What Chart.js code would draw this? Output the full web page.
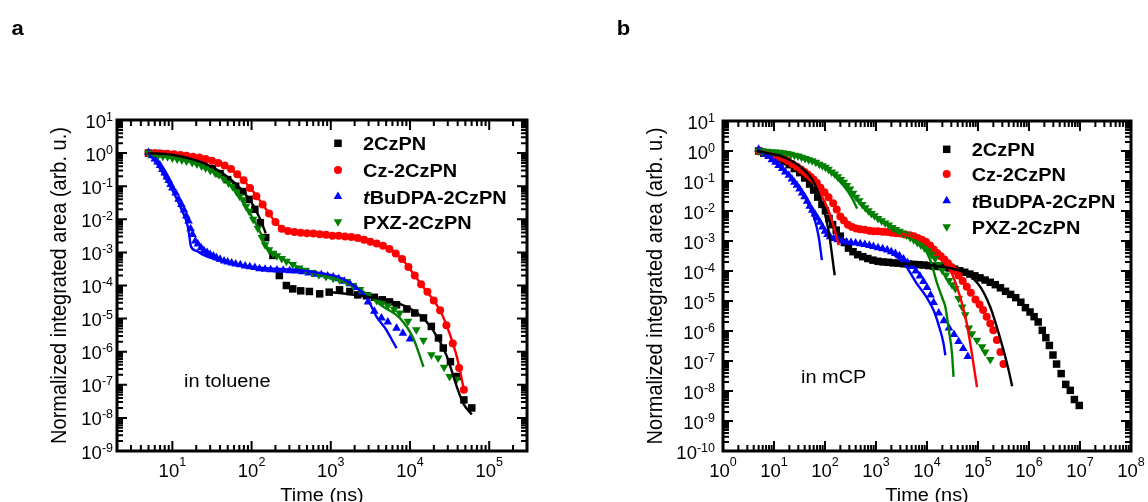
<!DOCTYPE html>
<html>
<head>
<meta charset="utf-8">
<title>Transient decay of 2CzPN derivatives</title>
<script src="https://cdn.jsdelivr.net/npm/chart.js@4.4.1/dist/chart.umd.min.js"></script>
<style>
  html, body { margin: 0; padding: 0; background: #fff; }
  #wrap { position: relative; width: 1148px; height: 502px; overflow: hidden; }
  #wrap canvas { position: absolute; top: 0; }
</style>
</head>
<body>
<div id="wrap">
  <canvas id="panelA" width="574" height="502" style="left:0"></canvas>
  <canvas id="panelB" width="574" height="502" style="left:574px"></canvas>
</div>
<script>
/* global Chart */

// ---------------------- Data: panel a (in toluene) ----------------------

const SERIES_NAMES = ["2CzPN", "Cz-2CzPN", "tBuDPA-2CzPN", "PXZ-2CzPN"];

const tolT_2CzPN = [5, 6.3, 7.9, 10, 12.6, 15.8, 20, 25, 32, 40, 50, 63, 78, 93, 110, 129, 151, 186, 224, 275,
  331, 417, 537, 724, 955, 1290, 1740, 2190, 2820, 3550, 4470, 5500, 6760, 9120, 11500, 14800, 18600, 22900, 26300, 32400,
  39800, 47900, 60300];
const tolY_2CzPN = [1, 0.98, 0.93, 0.87, 0.79, 0.69, 0.58, 0.45, 0.34, 0.24, 0.158, 0.1, 0.069, 0.040, 0.020, 7.9e-3, 2.8e-3, 8.1e-4, 2.0e-4, 1.0e-4,
  7.9e-5, 6.9e-5, 6.6e-5, 5.6e-5, 6.3e-5, 7.4e-5, 6.6e-5, 5.2e-5, 4.9e-5, 4.4e-5, 3.7e-5, 3.2e-5, 2.6e-5, 1.95e-5, 1.48e-5, 1.05e-5, 5.8e-6, 2.6e-6, 1.29e-6, 5.0e-7,
  1.78e-7, 3.5e-8, 2.0e-8];

const tolT_Cz = [5, 6, 7.2, 8.7, 10.5, 12.6, 15.1, 18.2, 21.9, 26.3, 31.6, 38, 45.7, 55, 66, 79.4, 95.5, 115, 138, 166,
  200, 240, 288, 347, 417, 501, 603, 724, 871, 1047, 1259, 1514, 1820, 2188, 2630, 3162, 3802, 4571, 5495, 6607,
  7943, 9550, 11480, 13800, 16600, 19950, 23990, 28840, 34670, 41690, 47860];
const tolY_Cz = [1.0, 0.99, 0.98, 0.95, 0.92, 0.87, 0.83, 0.78, 0.74, 0.66, 0.59, 0.50, 0.42, 0.33, 0.23, 0.15, 0.089, 0.050, 0.028, 0.015,
  8.3e-3, 5.2e-3, 4.4e-3, 4.1e-3, 3.9e-3, 3.8e-3, 3.7e-3, 3.55e-3, 3.4e-3, 3.2e-3, 3.16e-3, 3.0e-3, 2.9e-3, 2.7e-3, 2.4e-3, 2.1e-3, 1.86e-3, 1.58e-3, 1.26e-3, 9.3e-4,
  6.3e-4, 3.6e-4, 2.0e-4, 1.1e-4, 6.5e-5, 3.55e-5, 1.78e-5, 6.3e-6, 1.78e-6, 3.2e-7, 7.1e-8];

const tolT_tBu = [5, 5.5, 6, 6.5, 7, 7.5, 8, 8.5, 9, 9.5, 10, 11, 12, 13, 14, 15, 16, 17, 18, 19.5,
  21, 23, 25, 27.5, 30, 33, 36, 40, 45, 50, 56, 63, 72, 83, 95, 110, 126, 148, 174, 209,
  251, 302, 363, 437, 525, 631, 759, 912, 1072, 1259, 1479, 1738, 2042, 2427, 2951, 3548, 4365, 5248, 6761, 8128, 10000];
const tolY_tBu = [1.05, 0.83, 0.66, 0.54, 0.42, 0.32, 0.25, 0.19, 0.148, 0.112, 0.089, 0.062, 0.040, 0.028, 0.019, 0.0126, 8.9e-3, 5.2e-3, 3.5e-3, 2.2e-3,
  1.78e-3, 1.38e-3, 1.15e-3, 1.0e-3, 8.7e-4, 7.8e-4, 6.9e-4, 6.2e-4, 5.5e-4, 5.1e-4, 4.8e-4, 4.5e-4, 4.2e-4, 3.9e-4, 3.7e-4, 3.5e-4, 3.2e-4, 3.1e-4, 3.0e-4, 2.95e-4,
  2.9e-4, 2.8e-4, 2.75e-4, 2.6e-4, 2.4e-4, 2.2e-4, 2.1e-4, 1.95e-4, 1.8e-4, 1.6e-4, 1.35e-4, 1.12e-4, 8.7e-5, 5.9e-5, 3.2e-5, 1.66e-5, 1.05e-5, 7.9e-6, 5.1e-6, 3.6e-6, 2.4e-6];

const tolT_PXZ = [5, 5.75, 6.6, 7.6, 8.7, 10, 11.5, 13.2, 15.1, 17.8, 20.4, 23.4, 26.3, 30.2, 34.7, 38.9, 44.7, 51.3, 57.5, 64.6,
  70.8, 77.6, 85.1, 93.3, 104.7, 120, 135, 148, 166, 186, 209, 240, 275, 331, 398, 479, 589, 708, 871, 1072,
  1288, 1585, 1905, 2344, 2951, 3802, 4467, 5248, 6310, 7413, 9441, 12020, 14790, 18620, 22650, 26920, 31620, 38900];
const tolY_PXZ = [1.0, 0.91, 0.85, 0.81, 0.78, 0.71, 0.66, 0.62, 0.58, 0.52, 0.47, 0.41, 0.355, 0.30, 0.25, 0.22, 0.166, 0.126, 0.098, 0.068,
  0.050, 0.039, 0.025, 0.0174, 0.01, 5.4e-3, 2.8e-3, 1.7e-3, 1.2e-3, 9.5e-4, 7.9e-4, 6.5e-4, 5.4e-4, 4.3e-4, 3.4e-4, 2.9e-4, 2.45e-4, 2.1e-4, 1.86e-4, 1.66e-4,
  1.48e-4, 1.32e-4, 1.0e-4, 7.6e-5, 5.2e-5, 3.5e-5, 3.0e-5, 2.45e-5, 1.9e-5, 1.48e-5, 8.3e-6, 4.6e-6, 2.2e-6, 8.1e-7, 6.5e-7, 3.4e-7, 1.78e-7, 1.48e-7];

// fitted curves (toluene)
const tolFitT_2CzPN_early = [5, 10, 20, 32, 50, 71, 100, 126, 151];
const tolFitY_2CzPN_early = [1.0, 0.89, 0.60, 0.38, 0.19, 0.089, 0.032, 0.0112, 3.8e-3];
const tolFitT_2CzPN_late = [1000, 2000, 3980, 7410, 12600, 19500, 28800, 38900, 46800, 60300];
const tolFitY_2CzPN_late = [6.3e-5, 5.2e-5, 4.0e-5, 2.8e-5, 1.41e-5, 4.5e-6, 7.9e-7, 8.9e-8, 2.8e-8, 1.26e-8];
const tolFitT_Cz = [5, 10, 20, 32, 50, 79, 100, 126, 158, 200, 251, 316, 500, 1000, 2000, 3160, 5010, 7940, 11480, 15850, 19950, 25120, 31620, 38020, 42660, 47860];
const tolFitY_Cz = [1.0, 0.93, 0.76, 0.59, 0.38, 0.15, 0.079, 0.038, 0.0178, 8.3e-3, 5.0e-3, 4.2e-3, 3.8e-3, 3.3e-3, 2.75e-3, 2.1e-3, 1.41e-3, 6.3e-4, 2.0e-4, 7.1e-5, 3.55e-5, 1.41e-5, 3.55e-6, 8.9e-7, 2.8e-7, 7.1e-8];
const tolFitT_tBu = [4.9, 6.3, 7.9, 10, 12.6, 15.8, 17.2, 20, 25, 40, 63, 100, 200, 398, 794, 1259, 1995, 2818, 3758, 5012, 6095, 6761];
const tolFitY_tBu = [1.07, 0.5, 0.21, 0.076, 0.024, 5.6e-3, 1.51e-3, 1.12e-3, 8.3e-4, 5.6e-4, 4.4e-4, 3.7e-4, 3.2e-4, 2.9e-4, 2.3e-4, 1.78e-4, 9.5e-5, 4.5e-5, 1.17e-5, 4.6e-6, 2.0e-6, 1.29e-6];
const tolFitT_PXZ = [5, 10, 20, 32, 50, 71, 100, 126, 148, 178, 251, 398, 794, 1585, 2512, 4571, 7413, 10960, 14790];
const tolFitY_PXZ = [1.0, 0.72, 0.48, 0.29, 0.132, 0.052, 0.0126, 4.5e-3, 1.78e-3, 1.05e-3, 6.3e-4, 3.5e-4, 2.0e-4, 1.2e-4, 6.8e-5, 2.3e-5, 1.05e-5, 2.6e-6, 3.5e-7];

// ---------------------- Data: panel b (in mCP) ----------------------

const mcpT_2CzPN = [5, 6.3, 7.9, 10, 12.6, 15.8, 20, 25, 32, 40, 50, 60, 72, 87, 102, 120, 141, 166, 200, 240,
  288, 355, 437, 550, 692, 871, 1096, 1380, 1738, 2188, 2754, 3467, 4365, 5495, 6918, 8710, 10960, 13800, 17380, 21880,
  27540, 34670, 43650, 54950, 69180, 87100, 1.096e5, 1.38e5, 1.738e5, 2.188e5, 2.754e5, 3.467e5, 4.365e5, 5.495e5, 6.918e5, 8.51e5, 1.047e6, 1.259e6, 1.514e6, 1.82e6,
  2.14e6, 2.51e6, 2.95e6, 3.47e6, 4.27e6, 5.25e6, 6.46e6, 7.76e6, 9.66e6];
const mcpY_2CzPN = [1, 0.85, 0.76, 0.66, 0.55, 0.44, 0.35, 0.26, 0.19, 0.126, 0.079, 0.050, 0.029, 0.0166, 0.0102, 5.6e-3, 3.5e-3, 2.3e-3, 1.45e-3, 8.9e-4,
  5.8e-4, 4.4e-4, 3.5e-4, 3.0e-4, 2.6e-4, 2.3e-4, 2.1e-4, 2.0e-4, 1.95e-4, 1.86e-4, 1.82e-4, 1.74e-4, 1.7e-4, 1.66e-4, 1.62e-4, 1.58e-4, 1.51e-4, 1.45e-4, 1.41e-4, 1.35e-4,
  1.26e-4, 1.15e-4, 1.02e-4, 9.1e-5, 7.9e-5, 6.9e-5, 5.9e-5, 5.0e-5, 4.2e-5, 3.5e-5, 2.75e-5, 2.1e-5, 1.66e-5, 1.29e-5, 9.1e-6, 6.0e-6, 4.3e-6, 3.0e-6, 2.0e-6, 1.05e-6,
  6.0e-7, 3.3e-7, 1.58e-7, 7.9e-8, 3.8e-8, 1.66e-8, 1.05e-8, 5.2e-9, 3.3e-9];

const mcpT_Cz = [5, 6, 7.2, 8.7, 10.5, 12.6, 15.5, 18.6, 22.9, 28.2, 33.9, 39.8, 45.7, 52.5, 60.3, 69.2, 81.3, 97.7, 117.5, 144.5,
  169.8, 199.5, 234.4, 281.8, 338.8, 407.4, 489.8, 602.6, 741.3, 891.3, 1096, 1349, 1660, 2042, 2512, 3020, 3715, 4571, 5495, 6607,
  7943, 9550, 11480, 13490, 15850, 18620, 21880, 25700, 30200, 35480, 41690, 50120, 60260, 72440, 89130, 107200, 125900, 147900, 173800, 199500,
  234400, 275400, 316200];
const mcpY_Cz = [1, 0.93, 0.85, 0.78, 0.69, 0.63, 0.56, 0.47, 0.37, 0.30, 0.24, 0.20, 0.166, 0.135, 0.11, 0.085, 0.060, 0.042, 0.029, 0.018,
  0.0112, 6.6e-3, 4.8e-3, 3.5e-3, 2.95e-3, 2.6e-3, 2.45e-3, 2.35e-3, 2.2e-3, 2.1e-3, 2.1e-3, 2.05e-3, 2.0e-3, 1.9e-3, 1.8e-3, 1.78e-3, 1.66e-3, 1.55e-3, 1.45e-3, 1.26e-3,
  1.1e-3, 9.3e-4, 7.1e-4, 5.2e-4, 4.0e-4, 3.1e-4, 2.4e-4, 1.8e-4, 1.35e-4, 1.0e-4, 7.1e-5, 4.6e-5, 3.0e-5, 1.9e-5, 1.12e-5, 7.6e-6, 5.0e-6, 3.0e-6, 1.78e-6, 1.05e-6,
  5.0e-7, 2.0e-7, 7.9e-8];

const mcpT_tBu = [5, 5.75, 6.6, 7.8, 9.1, 10.7, 12.3, 14.5, 16.6, 19.5, 22.4, 25.1, 28.2, 31.6, 35.5, 39.8, 44.7, 50.1, 56.2, 63.1,
  70.8, 79.4, 89.1, 100, 112, 126, 148, 178, 214, 263, 324, 398, 490, 603, 741, 891, 1096, 1349, 1660, 1995,
  2399, 2884, 3467, 4169, 5012, 6026, 7244, 8511, 10000, 11750, 13490, 16980, 21380, 26920, 33880, 41690, 51290, 63100];
const mcpY_tBu = [1.15, 0.93, 0.79, 0.65, 0.51, 0.42, 0.33, 0.26, 0.20, 0.155, 0.117, 0.091, 0.072, 0.054, 0.040, 0.030, 0.021, 0.0145, 0.0105, 7.9e-3,
  5.8e-3, 4.2e-3, 2.95e-3, 2.1e-3, 1.66e-3, 1.38e-3, 1.2e-3, 1.1e-3, 1.0e-3, 9.3e-4, 8.9e-4, 8.5e-4, 8.1e-4, 7.6e-4, 7.1e-4, 6.6e-4, 6.0e-4, 5.5e-4, 5.0e-4, 4.4e-4,
  3.8e-4, 3.2e-4, 2.5e-4, 1.9e-4, 1.41e-4, 1.0e-4, 6.8e-5, 4.5e-5, 2.8e-5, 1.58e-5, 8.9e-6, 4.0e-6, 2.2e-6, 1.26e-6, 7.6e-7, 4.5e-7, 2.6e-7, 1.41e-7];

const mcpT_PXZ = [5, 6, 7.2, 8.7, 10.5, 12.6, 15.1, 18.2, 21.4, 25.1, 29.5, 34.7, 40.7, 47.9, 56.2, 66.1, 77.6, 89.1, 102, 117,
  135, 155, 178, 204, 234, 269, 309, 355, 407, 468, 537, 617, 708, 813, 933, 1096, 1288, 1514, 1778, 2089,
  2455, 2884, 3388, 3981, 4677, 5495, 6457, 7586, 8913, 10470, 12300, 14450, 16980, 19950, 23440, 26920, 30900, 35890, 41690, 48980,
  56230, 66070, 75860, 95500, 120200, 138000, 173800];
const mcpY_PXZ = [1.0, 1.0, 0.98, 0.95, 0.93, 0.91, 0.87, 0.83, 0.78, 0.72, 0.68, 0.62, 0.56, 0.51, 0.47, 0.42, 0.36, 0.32, 0.29, 0.245,
  0.20, 0.17, 0.138, 0.112, 0.091, 0.071, 0.054, 0.039, 0.029, 0.022, 0.0166, 0.0129, 0.0102, 8.3e-3, 6.9e-3, 5.6e-3, 4.7e-3, 4.0e-3, 3.4e-3, 2.8e-3,
  2.4e-3, 2.1e-3, 1.82e-3, 1.58e-3, 1.32e-3, 1.1e-3, 8.9e-4, 7.4e-4, 6.0e-4, 4.8e-4, 3.6e-4, 2.6e-4, 1.66e-4, 1.05e-4, 7.4e-5, 4.8e-5, 3.5e-5, 2.6e-5, 1.2e-5, 6.3e-6,
  3.5e-6, 1.26e-6, 8.1e-7, 4.9e-7, 3.0e-7, 2.0e-7, 1.12e-7];

// fitted curves (mCP), each split into a prompt and a delayed part
const mcpFitT_2CzPN_early = [4.6, 7.9, 15.5, 32.7, 60, 87, 117, 155];
const mcpFitY_2CzPN_early = [1.0, 0.83, 0.63, 0.30, 0.093, 0.0178, 2.3e-3, 7.2e-5];
const mcpFitT_2CzPN_late = [631, 1585, 3981, 10000, 25120, 60260, 110900, 173800, 234400, 316200, 398100, 467700];
const mcpFitY_2CzPN_late = [2.8e-4, 2.0e-4, 1.74e-4, 1.58e-4, 1.29e-4, 8.1e-5, 2.95e-5, 6.3e-6, 1.35e-6, 2.3e-7, 5.0e-8, 1.45e-8];
const mcpFitT_Cz_early = [4.7, 10, 20, 40, 63, 110, 141, 186];
const mcpFitY_Cz_early = [1.0, 0.79, 0.45, 0.178, 0.079, 0.0135, 4.0e-3, 7.2e-4];
const mcpFitT_Cz_late = [3162, 5012, 10000, 15850, 28840, 38020, 48980, 60260, 75860, 95500];
const mcpFitY_Cz_late = [1.74e-3, 1.41e-3, 7.9e-4, 4.0e-4, 1.05e-4, 3.2e-5, 7.9e-6, 1.78e-6, 1.78e-7, 1.35e-8];
const mcpFitT_tBu_early = [4.7, 7.9, 15.5, 32.7, 50.1, 63.1, 75, 87];
const mcpFitY_tBu_early = [1.12, 0.68, 0.24, 0.052, 0.0141, 5.0e-3, 1.41e-3, 2.3e-4];
const mcpFitT_tBu_late = [631, 1000, 1995, 3548, 6310, 10000, 13490, 16980, 21130, 22910];
const mcpFitY_tBu_late = [7.9e-4, 6.3e-4, 4.0e-4, 1.78e-4, 3.8e-5, 1.26e-5, 4.9e-6, 1.55e-6, 3.8e-7, 1.55e-7];
const mcpFitT_PXZ_early = [5, 10, 32.7, 63, 110, 200, 316, 427];
const mcpFitY_PXZ_early = [1.0, 0.95, 0.72, 0.47, 0.26, 0.093, 0.033, 0.012];
const mcpFitT_PXZ_late = [1995, 3981, 8511, 11610, 15850, 19950, 22910, 26300, 30900, 33110];
const mcpFitY_PXZ_late = [3.2e-3, 1.58e-3, 6.3e-4, 2.3e-4, 3.8e-5, 1.26e-5, 6.3e-6, 1.35e-6, 1.78e-7, 2.95e-8];

// ---------------------- Styling ----------------------

const COLORS = ["#000000", "#ff0000", "#0000ff", "#008000"];
const MARKERS = [
  { pointStyle: "rect", radius: 5.3, rotation: 0 },
  { pointStyle: "circle", radius: 4.0, rotation: 0 },
  { pointStyle: "triangle", radius: 5.0, rotation: 0 },
  { pointStyle: "triangle", radius: 5.0, rotation: 180 }
];
const FONT = '"Liberation Sans", Arial, Helvetica, sans-serif';
const STRETCH = 1.14; // text in the original figure runs slightly wide

const toXY = (ts, ys) => ts.map((t, i) => ({ x: t, y: ys[i] }));

const markerSet = (idx, ts, ys) => ({
  label: SERIES_NAMES[idx],
  data: toXY(ts, ys),
  showLine: false,
  pointStyle: MARKERS[idx].pointStyle,
  pointRadius: MARKERS[idx].radius,
  pointRotation: MARKERS[idx].rotation,
  pointBackgroundColor: COLORS[idx],
  pointBorderColor: COLORS[idx],
  pointBorderWidth: 0,
  order: 10 - idx
});

const fitSet = (idx, ts, ys) => ({
  label: SERIES_NAMES[idx] + " fit",
  data: toXY(ts, ys),
  showLine: true,
  borderColor: COLORS[idx],
  borderWidth: 2.4,
  pointRadius: 0,
  fill: false,
  cubicInterpolationMode: "monotone",
  order: 1
});

// ---------------------- Text helpers ----------------------

function textW(ctx, text, size, weight, stretch = STRETCH) {
  ctx.save();
  ctx.font = `${weight || "normal"} ${size}px ${FONT}`;
  const w = ctx.measureText(text).width * stretch;
  ctx.restore();
  return w;
}

function wideText(ctx, text, x, y, size, weight, align, stretch = STRETCH) {
  const w = textW(ctx, text, size, weight, stretch);
  const x0 = align === "center" ? x - w / 2 : align === "right" ? x - w : x;
  ctx.save();
  ctx.font = `${weight || "normal"} ${size}px ${FONT}`;
  ctx.textAlign = "left";
  ctx.textBaseline = "alphabetic";
  ctx.translate(x0, y);
  ctx.scale(stretch, 1);
  ctx.fillText(text, 0, 0);
  ctx.restore();
  return w;
}

// "10" with a raised exponent
function powerLabel(ctx, exp, x, y, align, raise) {
  const sup = String(exp);
  const wb = textW(ctx, "10", 18.5, "normal", 1), ws = textW(ctx, sup, 12.5, "normal", 1);
  const total = wb + ws;
  const x0 = align === "center" ? x - total / 2 : align === "right" ? x - total : x;
  wideText(ctx, "10", x0, y, 18.5, "normal", "left", 1);
  wideText(ctx, sup, x0 + wb, y - raise, 12.5, "normal", "left", 1);
}

function logTicks(min, max) {
  const out = [];
  for (let e = Math.floor(Math.log10(min)); e <= Math.ceil(Math.log10(max)); e++) {
    for (let m = 1; m <= 9; m++) {
      const v = m * Math.pow(10, e);
      if (v >= min * 0.999 && v <= max * 1.001) out.push({ v, major: m === 1, e });
    }
  }
  return out;
}

function drawMarker(ctx, idx, x, y) {
  const r = MARKERS[idx].radius;
  ctx.fillStyle = COLORS[idx];
  ctx.beginPath();
  if (MARKERS[idx].pointStyle === "rect") {
    const s = r * Math.SQRT1_2;
    ctx.rect(x - s, y - s, 2 * s, 2 * s);
  } else if (MARKERS[idx].pointStyle === "circle") {
    ctx.arc(x, y, r, 0, 2 * Math.PI);
  } else {
    const dir = MARKERS[idx].rotation ? 1 : -1;
    const hx = r * Math.sin(2 * Math.PI / 3);
    ctx.moveTo(x, y + dir * r);
    ctx.lineTo(x + hx, y - dir * r * 0.5);
    ctx.lineTo(x - hx, y - dir * r * 0.5);
    ctx.closePath();
  }
  ctx.fill();
}

// ---------------------- Frame / labels plugin ----------------------

const framePlugin = {
  id: "frame",
  afterDatasetsDraw(chart, _args, o) {
    const { ctx, chartArea: a } = chart;
    const xs = chart.scales.x, ys = chart.scales.y;
    ctx.save();
    ctx.fillStyle = "#000";
    ctx.strokeStyle = "#000";

    // inward ticks on all four sides
    ctx.lineWidth = 2;
    ctx.beginPath();
    for (const t of logTicks(xs.min, xs.max)) {
      const p = xs.getPixelForValue(t.v);
      const len = t.major ? 10 : 6;
      ctx.moveTo(p, a.bottom); ctx.lineTo(p, a.bottom - len);
      ctx.moveTo(p, a.top); ctx.lineTo(p, a.top + len);
    }
    for (const t of logTicks(ys.min, ys.max)) {
      const p = ys.getPixelForValue(t.v);
      const len = t.major ? 10 : 6;
      ctx.moveTo(a.left, p); ctx.lineTo(a.left + len, p);
      ctx.moveTo(a.right, p); ctx.lineTo(a.right - len, p);
    }
    ctx.stroke();
    ctx.lineWidth = 3;
    ctx.strokeRect(a.left, a.top, a.right - a.left, a.bottom - a.top);

    // tick labels
    for (const t of logTicks(xs.min, xs.max)) {
      if (t.major) powerLabel(ctx, t.e, xs.getPixelForValue(t.v), a.bottom + 26, "center", 11.5);
    }
    for (const t of logTicks(ys.min, ys.max)) {
      if (t.major) powerLabel(ctx, t.e, a.left - o.yLabelGap, ys.getPixelForValue(t.v) + 7.5, "right", 7);
    }

    // axis titles
    wideText(ctx, "Time (ns)", (a.left + a.right) / 2, 501, 17.5, "normal", "center");
    ctx.save();
    ctx.translate(o.yTitleX, (a.top + a.bottom) / 2);
    ctx.scale(STRETCH, 1);
    ctx.rotate(-Math.PI / 2);
    ctx.font = `20px ${FONT}`;
    ctx.textAlign = "center";
    ctx.textBaseline = "middle";
    ctx.fillText("Normalized integrated area (arb. u.)", 0, 0);
    ctx.restore();

    // legend
    o.legRows.forEach((ry, i) => {
      drawMarker(ctx, i, o.legX, ry);
      ctx.fillStyle = "#000";
      if (i === 2) {
        const w = wideText(ctx, "t", o.legTextX, ry + 7, 17.5, "italic bold");
        wideText(ctx, "BuDPA-2CzPN", o.legTextX + w, ry + 7, 17.5, "bold");
      } else {
        wideText(ctx, SERIES_NAMES[i], o.legTextX, ry + 7, 17.5, "bold");
      }
    });

    // annotation and panel letter
    ctx.fillStyle = "#000";
    wideText(ctx, o.note, o.noteX, o.noteY, 17.5);
    wideText(ctx, o.letter, o.letterX, o.letterY, 21, "bold", "left", 1.05);
    ctx.restore();
  }
};

function renderPanel(canvasId, cfg) {
  return new Chart(document.getElementById(canvasId), {
    type: "scatter",
    data: { datasets: cfg.datasets },
    options: {
      responsive: false,
      animation: false,
      devicePixelRatio: 1,
      layout: { padding: cfg.padding },
      plugins: { legend: { display: false }, tooltip: { enabled: false }, frame: cfg.frame },
      scales: {
        x: { type: "logarithmic", min: cfg.xMin, max: cfg.xMax, display: false },
        y: { type: "logarithmic", min: cfg.yMin, max: cfg.yMax, display: false }
      }
    },
    plugins: [framePlugin]
  });
}

// ---------------------- Panel a: toluene ----------------------

renderPanel("panelA", {
  xMin: 2, xMax: 3e5, yMin: 1e-9, yMax: 10,
  padding: { left: 117, right: 47, top: 120, bottom: 51 },
  frame: {
    letter: "a", letterX: 11.5, letterY: 35,
    note: "in toluene", noteX: 184, noteY: 387,
    legX: 338, legTextX: 363, legRows: [143.3, 170, 196.5, 221.7],
    yTitleX: 60, yLabelGap: 4
  },
  datasets: [
    fitSet(0, tolFitT_2CzPN_early, tolFitY_2CzPN_early),
    fitSet(0, tolFitT_2CzPN_late, tolFitY_2CzPN_late),
    fitSet(1, tolFitT_Cz, tolFitY_Cz),
    fitSet(2, tolFitT_tBu, tolFitY_tBu),
    fitSet(3, tolFitT_PXZ, tolFitY_PXZ),
    markerSet(0, tolT_2CzPN, tolY_2CzPN),
    markerSet(1, tolT_Cz, tolY_Cz),
    markerSet(2, tolT_tBu, tolY_tBu),
    markerSet(3, tolT_PXZ, tolY_PXZ)
  ]
});

// ---------------------- Panel b: mCP ----------------------

renderPanel("panelB", {
  xMin: 1, xMax: 1e8, yMin: 1e-10, yMax: 10,
  padding: { left: 149, right: 17, top: 121, bottom: 51 },
  frame: {
    letter: "b", letterX: 42.7, letterY: 35,
    note: "in mCP", noteX: 227, noteY: 382.5,
    legX: 372.7, legTextX: 397.7, legRows: [149.3, 174, 200.7, 226.7],
    yTitleX: 82, yLabelGap: 8
  },
  datasets: [
    fitSet(0, mcpFitT_2CzPN_early, mcpFitY_2CzPN_early),
    fitSet(0, mcpFitT_2CzPN_late, mcpFitY_2CzPN_late),
    fitSet(1, mcpFitT_Cz_early, mcpFitY_Cz_early),
    fitSet(1, mcpFitT_Cz_late, mcpFitY_Cz_late),
    fitSet(2, mcpFitT_tBu_early, mcpFitY_tBu_early),
    fitSet(2, mcpFitT_tBu_late, mcpFitY_tBu_late),
    fitSet(3, mcpFitT_PXZ_early, mcpFitY_PXZ_early),
    fitSet(3, mcpFitT_PXZ_late, mcpFitY_PXZ_late),
    markerSet(0, mcpT_2CzPN, mcpY_2CzPN),
    markerSet(1, mcpT_Cz, mcpY_Cz),
    markerSet(2, mcpT_tBu, mcpY_tBu),
    markerSet(3, mcpT_PXZ, mcpY_PXZ)
  ]
});
</script>
</body>
</html>
